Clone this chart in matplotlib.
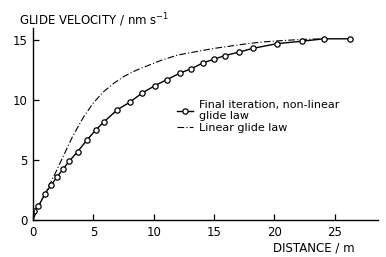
import matplotlib.pyplot as plt

# final iteration, non-linear glide law
dist_nl = [0.0, 0.1, 0.45, 1.0, 1.5, 2.0, 2.5, 3.0, 3.7, 4.5, 5.2, 5.9, 7.0, 8.0,
           9.0, 10.1, 11.1, 12.2, 13.1, 14.1, 15.0, 15.9, 17.1, 18.2, 20.25,
           22.3, 24.1, 26.3]
vel_nl = [0.0, 0.75, 1.15, 2.2, 2.9, 3.6, 4.25, 4.9, 5.7, 6.7, 7.5, 8.2, 9.2, 9.8,
          10.55, 11.2, 11.7, 12.25, 12.6, 13.1, 13.4, 13.7, 14.0, 14.3, 14.7,
          14.9, 15.1, 15.1]

# linear glide law
dist_lin = [0.0, 0.5, 1.2, 1.8, 2.5, 3.3, 4.2, 5.0, 5.8, 6.7, 7.6, 8.6, 10.6, 12.0,
            13.9, 15.0, 16.4, 17.8, 19.2, 20.6, 22.3, 24.1]
vel_lin = [0.0, 1.2, 2.6, 3.8, 5.3, 7.0, 8.6, 9.75, 10.65, 11.4, 12.0, 12.5, 13.3,
           13.75, 14.1, 14.3, 14.5, 14.7, 14.85, 14.95, 15.05, 15.1]

x_ticks = [0, 5, 10, 15, 20, 25]
y_ticks = [0, 5, 10, 15]

fig = plt.figure(figsize=(3.86, 2.57), dpi=100)
ax = fig.add_axes([0.0855, 0.144, 0.894, 0.747])

ax.plot(dist_lin, vel_lin, color='black', lw=0.8, linestyle=(0, (6, 2, 1, 2)),
        label='Linear glide law')
ax.plot(dist_nl[1:], vel_nl[1:], color='black', lw=1.0, marker='o', ms=3.8,
        mfc='white', mec='black', mew=0.9, label='Final iteration, non-linear\nglide law')
ax.plot(dist_nl[:2], vel_nl[:2], color='black', lw=1.0)

ax.set_xlim(0, 28.6)
ax.set_ylim(0, 16)
ax.set_xticks(x_ticks)
ax.set_yticks(y_ticks)
ax.spines['top'].set_visible(False)
ax.spines['right'].set_visible(False)
ax.tick_params(direction='in', length=4, width=0.9, labelsize=8.5, pad=4)
ax.spines['left'].set_linewidth(1.0)
ax.spines['bottom'].set_linewidth(1.0)

fig.text(0.05, 0.922, 'GLIDE VELOCITY / nm s$^{-1}$', fontsize=8.5, ha='left', va='center')
fig.text(0.92, 0.035, 'DISTANCE / m', fontsize=8.5, ha='right', va='center')

handles, labels = ax.get_legend_handles_labels()
ax.legend(handles[::-1], labels[::-1], loc='upper left', bbox_to_anchor=(0.40, 0.655),
          frameon=False, fontsize=8, handlelength=1.5, handletextpad=0.5,
          labelspacing=0.1, borderpad=0)

fig.savefig('out.png', dpi=100)
